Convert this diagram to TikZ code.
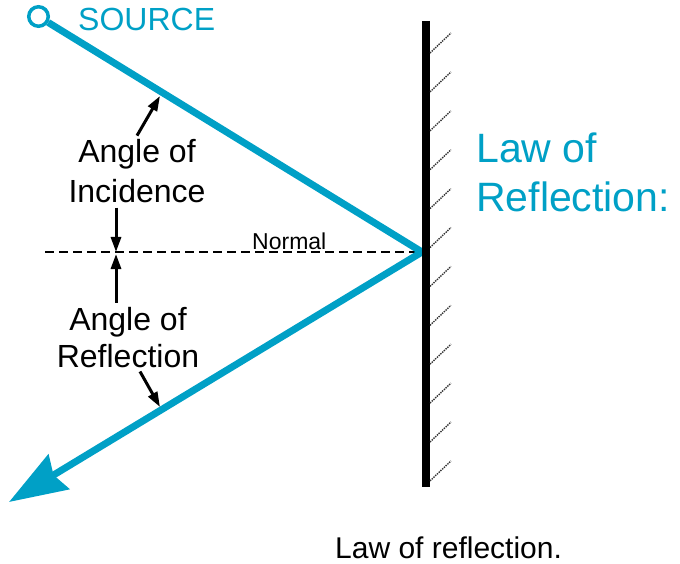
\documentclass[tikz,border=0pt]{standalone}
\usepackage{fontspec}
\setmainfont{Liberation Sans}
\usetikzlibrary{arrows.meta,positioning}
\definecolor{raycyan}{RGB}{0,160,198}

\begin{document}
\begin{tikzpicture}[
  x=1pt, y=-1pt,
  ray/.style={draw=raycyan, line width=7pt, line join=miter},
  pointer/.style={-{Triangle[length=15pt,width=10pt]}, line width=3pt},
  hatch/.style={draw=black!80, line width=1.4pt, densely dotted},
  anglelbl/.style={align=center, inner sep=4pt},
  lawtext/.style={text=raycyan, align=left, inner sep=0pt}
]
\useasboundingbox (0,0) rectangle (680,564);

% Coordinates
\coordinate (mtop) at (426,21);
\coordinate (mbot) at (426,487);
\coordinate (hit) at (422,252);
\coordinate (tip) at (9,502);
\coordinate (nstart) at (45,252);
\coordinate (incpt) at (160,96);
\coordinate (refpt) at (160,407);
\coordinate (ninc) at (116,252);
\coordinate (nref) at (116,254);

% Source and rays
\node[circle, draw=raycyan, line width=3.5pt, minimum size=19.5pt, inner sep=0pt] (src) at (38.5,16.5) {};
\node[lawtext, anchor=base west, font=\fontsize{32}{32}\selectfont] (srclbl) at (78,30.5) {SOURCE};

\draw[dash pattern=on 9pt off 5pt, line width=1.4pt] (nstart) -- (hit);
\node[anchor=base west, inner sep=0pt, font=\fontsize{23}{23}\selectfont] (normal) at (252,250) {Normal};

\draw[ray, -{Stealth[length=58pt,width=40pt,inset=6pt]}] (src) -- (hit) -- (tip);

% Mirror
\draw[line width=8pt] (mtop) -- (mbot);
\foreach \k in {0,...,11}
  \draw[hatch] (430,53+38.9*\k) -- ++(21,-20);

% Labels
\node[anglelbl, anchor=base, font=\fontsize{32}{40}\selectfont] (inc) at (137,203) {Angle of\\Incidence};
\node[anglelbl, anchor=base, font=\fontsize{32}{37}\selectfont] (refl) at (128,367) {Angle of\\Reflection};
\node[lawtext, anchor=base west, font=\fontsize{41}{49}\selectfont] (law) at (476,212) {Law of\\Reflection:};
\node[anchor=base west, inner sep=0pt, font=\fontsize{30}{30}\selectfont] (caption) at (335,558) {Law of reflection.};

% Pointers
\draw[pointer] (inc.north) -- (incpt);
\draw[pointer] ([xshift=-21pt]inc.south) -- (ninc);
\draw[pointer] ([xshift=-12pt]refl.north) -- (nref);
\draw[pointer] ([xshift=12pt]refl.south) -- (refpt);

\end{tikzpicture}
\end{document}
